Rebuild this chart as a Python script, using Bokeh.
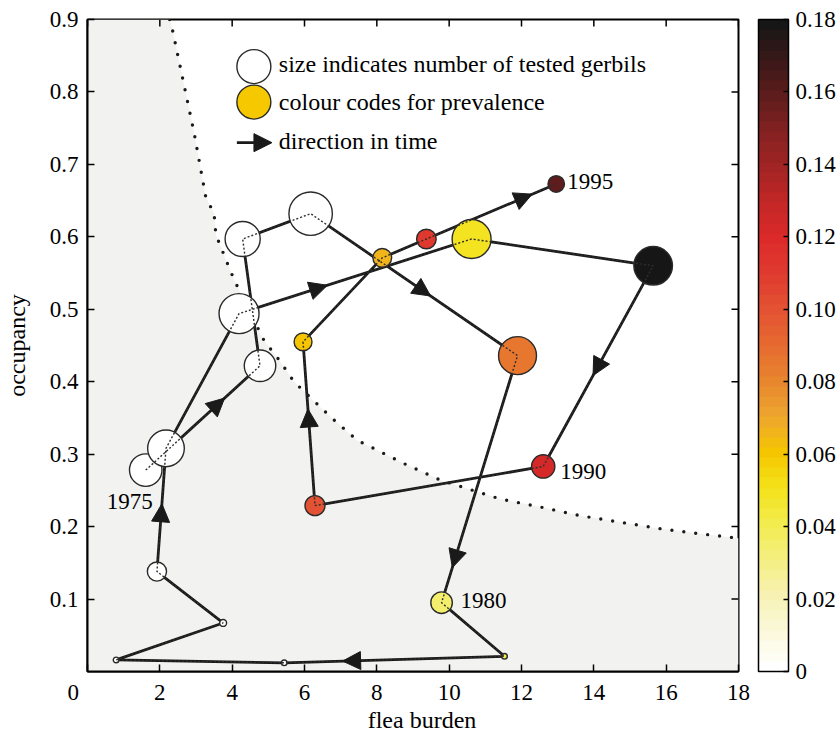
import numpy as np
from bokeh.plotting import figure
from bokeh.models import (ColumnDataSource, LinearColorMapper, ColorBar, FixedTicker,
                          Range1d, Arrow, NormalHead)
from bokeh.transform import transform
from bokeh.core.properties import value
from bokeh.embed import file_html
from bokeh.resources import INLINE

# ---------------- data ----------------
years = list(range(1975, 1996))
flea_burden = [1.61, 4.77, 4.29, 6.17, 11.89, 9.79, 11.53, 5.44, 0.79, 3.75, 1.92,
               2.17, 4.19, 10.62, 15.64, 12.60, 6.29, 5.96, 8.15, 9.37, 12.96]
occupancy = [0.278, 0.422, 0.597, 0.632, 0.436, 0.095, 0.021, 0.012, 0.016, 0.067, 0.138,
             0.308, 0.494, 0.597, 0.560, 0.283, 0.229, 0.455, 0.571, 0.597, 0.673]
prevalence = [0.0, 0.0, 0.0, 0.0, 0.085, 0.035, 0.040, 0.0, 0.0, 0.0, 0.0,
              0.0, 0.0, 0.048, 0.180, 0.122, 0.100, 0.060, 0.066, 0.112, 0.158]
n_tested = [66, 62, 77, 118, 90, 29, 2, 2, 2, 3, 23,
            84, 100, 95, 93, 34, 25, 20, 22, 24, 17]

labelled_years = [1975, 1980, 1990, 1995]

# dotted threshold curve
threshold_x = [2.27, 2.31, 2.95, 3.27, 3.50, 3.55, 3.96, 4.10, 4.88, 5.30, 5.71, 6.73,
               7.46, 7.83, 8.75, 9.77, 11.42, 12.53, 13.63, 14.74, 15.85, 16.95, 18.0]
threshold_y = [0.900, 0.895, 0.743, 0.655, 0.632, 0.603, 0.552, 0.536, 0.457, 0.430, 0.400,
               0.351, 0.319, 0.310, 0.287, 0.264, 0.238, 0.227, 0.215, 0.206, 0.197, 0.190, 0.184]

x_ticks = [0, 2, 4, 6, 8, 10, 12, 14, 16, 18]
y_ticks = [0.1, 0.2, 0.3, 0.4, 0.5, 0.6, 0.7, 0.8, 0.9]
cb_ticks = [0, 0.02, 0.04, 0.06, 0.08, 0.10, 0.12, 0.14, 0.16, 0.18]
cb_labels = ["0", "0.02", "0.04", "0.06", "0.08", "0.10", "0.12", "0.14", "0.16", "0.18"]

legend_texts = ["size indicates number of tested gerbils",
                "colour codes for prevalence",
                "direction in time"]

# ---------------- style ----------------
X_MAX, Y_MAX, P_MAX = 18, 0.9, 0.18
FONT = "Liberation Serif"
INK = "#1a1a1a"

anchor_v = [0.0, 0.02, 0.04, 0.05, 0.06, 0.07, 0.08, 0.09, 0.10, 0.11, 0.12,
            0.13, 0.14, 0.15, 0.16, 0.17, 0.18]
anchor_c = ["#ffffff", "#f7f2b4", "#f2ec4e", "#f4e21a", "#f5c600", "#eea62e", "#e8862e",
            "#e66a30", "#e35232", "#e03c30", "#dc2a2a", "#c42626", "#a22424", "#842222",
            "#5e1c1c", "#3a1818", "#161616"]


def hex2rgb(h):
    return np.array([int(h[i:i + 2], 16) for i in (1, 3, 5)], float)


rgb = np.array([hex2rgb(c) for c in anchor_c])
grid = np.linspace(0, P_MAX, 64)
palette = []
for g in grid:
    r = np.interp(g, anchor_v, rgb[:, 0])
    gg = np.interp(g, anchor_v, rgb[:, 1])
    b = np.interp(g, anchor_v, rgb[:, 2])
    palette.append("#%02x%02x%02x" % (int(round(r)), int(round(gg)), int(round(b))))

mapper = LinearColorMapper(palette=palette, low=0, high=P_MAX)

FRAME_W, FRAME_H = 651, 652
p = figure(frame_width=FRAME_W, frame_height=FRAME_H,
           min_border_left=87, min_border_right=100, min_border_top=19, min_border_bottom=55,
           x_range=Range1d(0, X_MAX), y_range=Range1d(0, Y_MAX),
           output_backend="svg", toolbar_location=None, tools="")
p.background_fill_color = "white"
p.border_fill_color = "white"
p.grid.visible = False
p.outline_line_color = "black"
p.outline_line_width = 2

# shaded region below the threshold curve
shade_x = [0] + threshold_x
shade_y = [Y_MAX] + threshold_y
p.varea(x=shade_x, y1=[0] * len(shade_x), y2=shade_y, fill_color="#f2f2f0")

# dotted threshold curve
p.line(threshold_x, threshold_y, line_color=INK, line_width=3.4,
       line_dash="0 12", line_cap="round")

src = ColumnDataSource(dict(x=flea_burden, y=occupancy, prev=prevalence,
                            size=[4.0 * np.sqrt(n) for n in n_tested]))

# trajectory
p.line("x", "y", source=src, line_color=INK, line_width=2.8, line_join="round")

# direction arrows: (segment start index, position of tip along segment)
arrow_specs = [(0, 0.69), (3, 0.58), (4, 0.858), (6, 0.735), (10, 0.55),
               (12, 0.38), (14, 0.547), (16, 0.59), (19, 0.815)]
xs0, ys0, xs1, ys1 = [], [], [], []
for i, f in arrow_specs:
    xa, ya, xb, yb = flea_burden[i], occupancy[i], flea_burden[i + 1], occupancy[i + 1]
    xs0.append(xa + (f - 0.03) * (xb - xa)); ys0.append(ya + (f - 0.03) * (yb - ya))
    xs1.append(xa + f * (xb - xa)); ys1.append(ya + f * (yb - ya))
asrc = ColumnDataSource(dict(x0=xs0, y0=ys0, x1=xs1, y1=ys1))
p.add_layout(Arrow(end=NormalHead(size=18, fill_color=INK, line_color=INK, line_width=1),
                   x_start="x0", y_start="y0", x_end="x1", y_end="y1",
                   source=asrc, line_alpha=0))

# circles
p.scatter("x", "y", source=src, size="size", marker="circle",
          fill_color=transform("prev", mapper), line_color="#2a2a2a", line_width=1.4)

# dotted path visible inside circles
p.line("x", "y", source=src, line_color="#2e2e2e", line_width=1.4, line_dash="2 2")

# year labels (screen offsets; positive y offset is downward)
lab_off = {1975: (-16, 31, "center"), 1980: (19, -2, "left"),
           1990: (17, 5, "left"), 1995: (11, -2, "left")}
lx, ly, lt, lox, loy, la = [], [], [], [], [], []
for yr in labelled_years:
    k = years.index(yr)
    ox, oy, al = lab_off[yr]
    lx.append(flea_burden[k]); ly.append(occupancy[k]); lt.append(str(yr))
    lox.append(ox); loy.append(oy); la.append(al)
lsrc = ColumnDataSource(dict(x=lx, y=ly, t=lt, ox=lox, oy=loy, al=la))
p.text("x", "y", text="t", source=lsrc, x_offset="ox", y_offset="oy", text_align="al",
       text_baseline="middle", text_font=value(FONT), text_font_size="23px",
       text_color="black")

# legend (placed in data space near the top of the frame)
LEG_X = 4.6
LEG_Y = [0.835, 0.786, 0.730]
p.scatter([LEG_X], [LEG_Y[0]], size=34, marker="circle", fill_color="white",
          line_color="#2a2a2a", line_width=1.4)
p.scatter([LEG_X], [LEG_Y[1]], size=34, marker="circle", fill_color="#f5c800",
          line_color="#2a2a2a", line_width=1.4)
p.line([LEG_X - 0.47, LEG_X + 0.2], [LEG_Y[2], LEG_Y[2]], line_color=INK, line_width=2.8)
p.add_layout(Arrow(end=NormalHead(size=18, fill_color=INK, line_color=INK, line_width=1),
                   x_start=LEG_X + 0.3, y_start=LEG_Y[2], x_end=LEG_X + 0.5, y_end=LEG_Y[2],
                   line_alpha=0))
p.text([LEG_X + 0.69] * 3, [LEG_Y[0] + 0.004, LEG_Y[1], LEG_Y[2] + 0.002], text=legend_texts,
       text_baseline="middle", text_align="left", text_font=value(FONT),
       text_font_size="24px", text_color="black")

# axes
for ax in (p.xaxis[0], p.yaxis[0]):
    ax.axis_line_width = 2
    ax.major_tick_in = 7
    ax.major_tick_out = 0
    ax.major_tick_line_width = 1.5
    ax.minor_tick_line_color = None
    ax.major_label_text_font = FONT
    ax.major_label_text_font_size = "23px"
    ax.major_label_text_color = "black"
    ax.axis_label_text_font = FONT
    ax.axis_label_text_font_size = "24px"
    ax.axis_label_text_font_style = "normal"
    ax.axis_label_text_color = "black"

p.xaxis.ticker = FixedTicker(ticks=x_ticks)
p.yaxis.ticker = FixedTicker(ticks=y_ticks)
p.xaxis.major_label_overrides = {0: "0" + "\u00a0" * 5}
p.xaxis.axis_label = "\u00a0\u00a0\u00a0flea burden"
p.yaxis.axis_label = "occupancy"
p.xaxis.major_label_standoff = 8
p.yaxis.major_label_standoff = 9
p.xaxis.axis_label_standoff = -1
p.yaxis.axis_label_standoff = 17

# inward ticks on the top and right edges of the box
p.ray(x=x_ticks, y=[Y_MAX] * len(x_ticks), length=7, length_units="screen",
      angle=-np.pi / 2, line_color="black", line_width=1.5)
p.ray(x=[X_MAX] * len(y_ticks), y=y_ticks, length=7, length_units="screen",
      angle=np.pi, line_color="black", line_width=1.5)

# colour bar
cb = ColorBar(color_mapper=mapper, location=(FRAME_W + 20, 0), width=30, height=FRAME_H,
              padding=0, margin=0, ticker=FixedTicker(ticks=cb_ticks),
              major_label_overrides={t: l for t, l in zip(cb_ticks, cb_labels)},
              major_label_text_font=FONT, major_label_text_font_size="23px",
              major_label_text_color="black", label_standoff=7,
              major_tick_in=5, major_tick_out=0, major_tick_line_color="black",
              major_tick_line_width=1.5, minor_tick_line_color=None,
              bar_line_color="black", bar_line_width=1.5,
              background_fill_color=None, border_line_color=None)
p.add_layout(cb, "center")

open("out.html", "w").write(file_html(p, INLINE))
